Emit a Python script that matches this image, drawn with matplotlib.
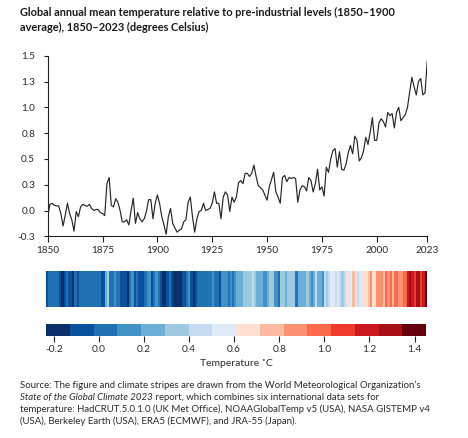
import matplotlib
matplotlib.use('Agg')
import matplotlib.pyplot as plt
import numpy as np
from matplotlib.colors import ListedColormap, Normalize
from matplotlib.cm import ScalarMappable

# ---------------- data ----------------
years = np.arange(1850, 2024)
anomaly = [
    -0.06, 0.06, 0.07, 0.05, 0.045, 0.045, -0.03, -0.15, -0.045, 0.07,      # 1850-59
    -0.03, -0.09, -0.20, -0.01, -0.06, 0.035, 0.06, 0.05, 0.04, 0.06,       # 1860-69
    0.02, 0.00, 0.01, 0.01, -0.02, -0.03, -0.05, 0.26, 0.32, 0.05,          # 1870-79
    0.035, 0.115, 0.08, 0.00, -0.11, -0.11, -0.09, -0.14, 0.00, 0.12,       # 1880-89
    -0.125, -0.02, -0.08, -0.11, -0.08, -0.01, 0.105, 0.105, -0.08, 0.07,   # 1890-99
    0.15, 0.07, -0.06, -0.14, -0.23, -0.06, 0.02, -0.125, -0.17, -0.21,     # 1900-09
    -0.19, -0.18, -0.11, -0.09, 0.08, 0.13, -0.06, -0.21, -0.08, -0.01,     # 1910-19
    0.00, 0.07, 0.00, 0.01, 0.02, 0.07, 0.18, 0.07, 0.07, -0.08,            # 1920-29
    0.13, 0.18, 0.15, -0.01, 0.13, 0.08, 0.13, 0.27, 0.29, 0.26,            # 1930-39
    0.36, 0.36, 0.33, 0.36, 0.44, 0.33, 0.24, 0.22, 0.20, 0.15,             # 1940-49
    0.10, 0.23, 0.30, 0.37, 0.18, 0.13, 0.07, 0.32, 0.34, 0.28,             # 1950-59
    0.32, 0.31, 0.32, 0.31, 0.08, 0.20, 0.24, 0.23, 0.19, 0.32,             # 1960-69
    0.29, 0.18, 0.26, 0.40, 0.20, 0.23, 0.14, 0.42, 0.37, 0.50,             # 1970-79
    0.58, 0.60, 0.42, 0.57, 0.40, 0.39, 0.45, 0.56, 0.63, 0.55,             # 1980-89
    0.72, 0.68, 0.48, 0.51, 0.58, 0.71, 0.64, 0.76, 0.90, 0.68,             # 1990-99
    0.68, 0.85, 0.89, 0.86, 0.81, 0.95, 0.92, 0.94, 0.80, 0.95,             # 2000-09
    1.00, 0.87, 0.90, 0.93, 1.00, 1.15, 1.29, 1.20, 1.12, 1.25,             # 2010-19
    1.28, 1.12, 1.14, 1.45,                                                 # 2020-23
]

y_ticks = [-0.25, 0.0, 0.25, 0.5, 0.75, 1.0, 1.25, 1.5]
y_tick_labels = ['-0.3', '0.0', '0.3', '0.5', '0.8', '1.0', '1.3', '1.5']
x_ticks = [1850, 1875, 1900, 1925, 1950, 1975, 2000, 2023]
cbar_ticks = [-0.2, 0.0, 0.2, 0.4, 0.6, 0.8, 1.0, 1.2, 1.4]
cbar_tick_labels = ['-0.2', '0.0', '0.2', '0.4', '0.6', '0.8', '1.0', '1.2', '1.4']
stripe_colors = ['#08306b', '#08519c', '#2171b5', '#4292c6', '#6baed6', '#9ecae1',
                 '#c6dbef', '#deebf7', '#fee0d2', '#fcbba1', '#fc9272', '#fb6a4a',
                 '#ef3b2c', '#cb181d', '#a50f15', '#67000d']

title = ("Global annual mean temperature relative to pre-industrial levels (1850\u20131900\n"
         "average), 1850\u20132023 (degrees Celsius)")
src1 = "Source: The figure and climate stripes are drawn from the World Meteorological Organization\u2019s"
src2_it = "State of the Global Climate 2023"
src2_rest = " report, which combines six international data sets for"
src3 = "temperature: HadCRUT.5.0.1.0 (UK Met Office), NOAAGlobalTemp v5 (USA), NASA GISTEMP v4"
src4 = "(USA), Berkeley Earth (USA), ERA5 (ECMWF), and JRA-55 (Japan)."

# ---------------- style ----------------
plt.rcParams['font.family'] = ['Lato', 'DejaVu Sans']
TXT = '#2a2a2a'
AXC = '#222222'

fig = plt.figure(figsize=(4.68, 4.38), dpi=100)
fig.patch.set_facecolor('white')

# line chart
ax = fig.add_axes([0.1019, 0.4605, 0.811, 0.4123])
ax.plot(years, anomaly, color='#262626', lw=0.85)
ax.set_xlim(1850, 2023)
ax.set_ylim(-0.25, 1.5)
ax.set_yticks(y_ticks, labels=y_tick_labels)
ax.set_xticks(x_ticks, labels=[str(t) for t in x_ticks])
for s in ['top', 'right']:
    ax.spines[s].set_visible(False)
for s in ['left', 'bottom']:
    ax.spines[s].set_color(AXC)
    ax.spines[s].set_linewidth(0.8)
ax.tick_params(axis='y', length=3, width=0.8, color=AXC, labelsize=7.2, labelcolor=TXT, pad=6)
ax.tick_params(axis='x', length=4, width=0.8, color=AXC, labelsize=7.2, labelcolor=TXT, pad=3)

# stripes
cmap = ListedColormap(stripe_colors)
norm = Normalize(vmin=-0.235, vmax=1.452)
sax = fig.add_axes([0.0983, 0.2998, 0.8135, 0.0815])
edges = np.append(years - 0.5, years[-1] + 0.5)
sax.pcolormesh(edges, [0, 1], np.array([anomaly]), cmap=cmap, norm=norm)
sax.set_xlim(edges[0], edges[-1])
sax.set_ylim(0, 1)
sax.axis('off')

# colorbar
cax = fig.add_axes([0.0983, 0.2336, 0.8125, 0.026])
cb = fig.colorbar(ScalarMappable(norm=norm, cmap=cmap), cax=cax, orientation='horizontal')
cb.outline.set_visible(False)
cb.set_ticks(cbar_ticks, labels=cbar_tick_labels)
cax.tick_params(length=4, width=0.8, color=AXC, labelsize=7.3, labelcolor=TXT, pad=3)
fig.text(0.505, 0.169, "Temperature \u02daC", ha='center', va='center', fontsize=7.5, color=TXT)

# title
fig.text(0.0427, 0.984, title, ha='left', va='top', fontsize=7.95, fontweight='bold',
         color='#1a1a1a', linespacing=1.38)

# source
x0 = 0.0427
fs = 6.9
fig.text(x0, 0.121, src1, ha='left', va='center', fontsize=fs, color=TXT)
t_it = fig.text(x0, 0.0936, src2_it, ha='left', va='center', fontsize=fs, color=TXT, style='italic')
r = fig.canvas.get_renderer()
bb = t_it.get_window_extent(renderer=r)
x1 = bb.x1 / fig.bbox.width
fig.text(x1, 0.0936, src2_rest, ha='left', va='center', fontsize=fs, color=TXT)
fig.text(x0, 0.0662, src3, ha='left', va='center', fontsize=fs, color=TXT)
fig.text(x0, 0.0388, src4, ha='left', va='center', fontsize=fs, color=TXT)

fig.savefig('out.png', dpi=100, facecolor='white')
